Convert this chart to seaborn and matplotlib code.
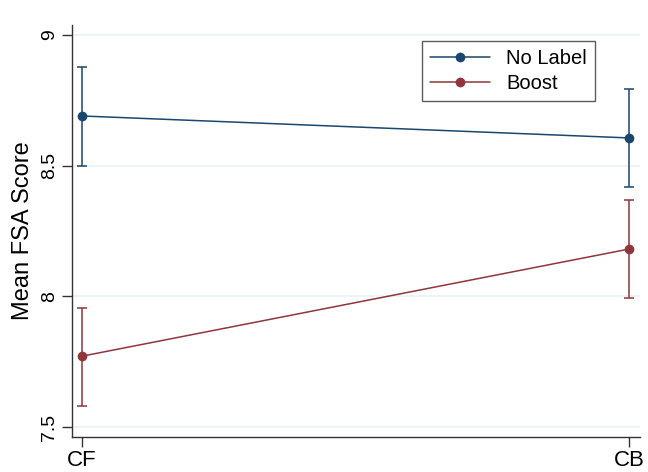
import matplotlib
matplotlib.use("Agg")
import matplotlib.pyplot as plt
import seaborn as sns
import pandas as pd

categories = ["CF", "CB"]
no_label_mean = [8.69, 8.606]
no_label_lo = [8.499, 8.418]
no_label_hi = [8.878, 8.793]
boost_mean = [7.771, 8.181]
boost_lo = [7.580, 7.994]
boost_hi = [7.955, 8.369]
y_ticks = [7.5, 8, 8.5, 9]
y_tick_labels = ["7.5", "8", "8.5", "9"]

sns.set_style("white")
plt.rcParams['font.family'] = ['Liberation Sans', 'DejaVu Sans']
plt.rcParams['text.color'] = 'black'
plt.rcParams['axes.labelcolor'] = 'black'
plt.rcParams['xtick.color'] = 'black'
plt.rcParams['ytick.color'] = 'black'

blue = "#1a476f"
red = "#90353b"

df = pd.DataFrame({
    "x": list(range(len(categories))) * 2,
    "mean": no_label_mean + boost_mean,
    "group": ["No Label"] * 2 + ["Boost"] * 2,
})

fig = plt.figure(figsize=(6.48, 4.72), dpi=100)
ax = fig.add_axes([72/648, 35/472, (640-72)/648, (437-25)/472])

for y in y_ticks:
    ax.axhline(y, color="#eaf2f3", lw=1.2, zorder=0)

for mean, lo, hi, col in [(no_label_mean, no_label_lo, no_label_hi, blue),
                          (boost_mean, boost_lo, boost_hi, red)]:
    xs = list(range(len(categories)))
    yerr = [[m - l for m, l in zip(mean, lo)], [h - m for m, h in zip(mean, hi)]]
    ax.errorbar(xs, mean, yerr=yerr, fmt="none", ecolor=col, elinewidth=1.1,
                capsize=3.5, capthick=1.1, zorder=2)

sns.lineplot(data=df, x="x", y="mean", hue="group", palette={"No Label": blue, "Boost": red},
             marker="o", markersize=7, markeredgewidth=0, lw=1.1, ax=ax, zorder=3,
             hue_order=["No Label", "Boost"])

ax.set_xlim(-0.018, 1.02)
ax.set_ylim(7.462, 9.038)
ax.set_xticks([0, 1])
ax.set_xticklabels(categories, fontsize=16)
ax.set_yticks(y_ticks)
ax.set_yticklabels(y_tick_labels, fontsize=14, rotation=90, va="center")
ax.set_xlabel("")
ax.set_ylabel("Mean FSA Score", fontsize=17, labelpad=5)
ax.tick_params(axis="both", direction="out", length=7, width=1, color="#333333", bottom=True, left=True)
ax.tick_params(axis="x", pad=2)
ax.tick_params(axis="y", pad=3)

for s in ["top", "right"]:
    ax.spines[s].set_visible(False)
for s in ["left", "bottom"]:
    ax.spines[s].set_color("#333333")
    ax.spines[s].set_linewidth(1.0)

leg = ax.legend(title=None, fontsize=14.5, loc="upper right", bbox_to_anchor=(595/648, (472-41)/472),
                bbox_transform=fig.transFigure, frameon=True, fancybox=False, handlelength=3,
                borderpad=0.4, labelspacing=0.3, handletextpad=0.8, borderaxespad=0)
leg.get_frame().set_edgecolor("#333333")
leg.get_frame().set_linewidth(1.0)

fig.savefig("out.png", dpi=100)
